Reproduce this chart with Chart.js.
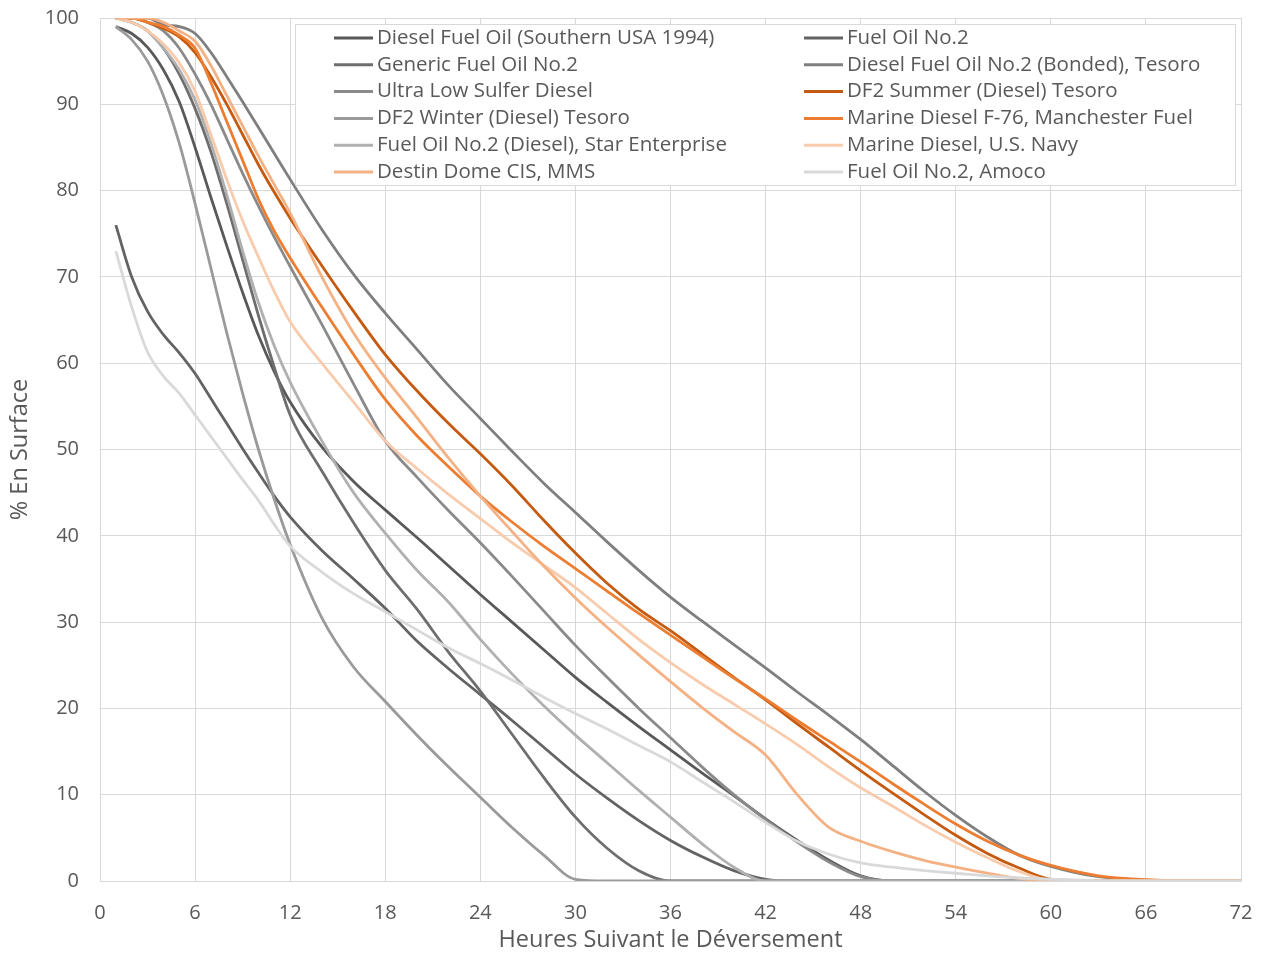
<!DOCTYPE html>
<html>
<head>
<meta charset="utf-8">
<script src="https://cdn.jsdelivr.net/npm/chart.js@4.4.1/dist/chart.umd.min.js"></script>
<style>
  html, body { margin: 0; padding: 0; background: #ffffff; }
  #wrap { width: 1262px; height: 954px; }
</style>
</head>
<body>
<div id="wrap"><canvas id="chart" width="1262" height="954"></canvas></div>
<script>
// Hours after the spill at which each product's surface fraction is listed
const hours = [1,2,3,4,5,6,7,8,9,10,11,12,14,16,18,20,22,24,26,28,30,32,34,36,38,40,42,44,46,48,50,52,54,56,58,60,63,66,69,72];

// % remaining on the surface, one value per entry of `hours`
const dieselSouthernUSA1994 = [99,98.2,96.6,94,90.3,85,79.2,73.6,68.2,63.2,59,55.5,50.3,46.3,43,39.8,36.5,33.2,30,26.8,23.6,20.7,17.9,15.2,12.5,9.9,7.2,4.7,2.4,0.6,0,0,0,0,0,0,0,0,0,0];
const fuelOilNo2 = [76,70,66,63.3,61.2,58.8,55.9,53,50.1,47.3,44.6,42.2,38.3,35,31.6,27.8,24.6,21.6,18.6,15.5,12.4,9.6,7,4.7,2.8,1.2,0.2,0,0,0,0,0,0,0,0,0,0,0,0,0];
const genericFuelOilNo2 = [100,99.5,98.5,96.5,93.5,89.5,84.5,78.5,72,65.5,59.5,54,47.5,41.5,36,31.5,26.5,22,17,12,7.4,3.8,1.2,0,0,0,0,0,0,0,0,0,0,0,0,0,0,0,0,0];
const bondedTesoro = [100,100,100,99.2,99,98.2,96,93.2,90.3,87.3,84.3,81.3,75.5,70.3,65.8,61.6,57.4,53.6,49.8,46.1,42.7,39.3,36,32.9,30.1,27.4,24.7,21.9,19.2,16.4,13.4,10.4,7.6,5.1,3,1.7,0.5,0.1,0,0];
const ultraLowSulfurDiesel = [100,100,99.5,98.5,96.5,93.5,90,86,82,78.2,74.6,71.2,64.5,57.6,51,46.8,42.9,39.2,35.3,31.3,27.3,23.6,20,16.6,13.2,10,7.1,4.5,2.2,0.5,0,0,0,0,0,0,0,0,0,0];
const df2SummerTesoro = [100,100,99.5,98.8,97.8,96,93.2,90,86.5,83,79.8,76.8,71.3,66,61,56.8,53,49.5,45.8,41.8,38,34.5,31.5,29,26.3,23.6,21,18.2,15.5,12.8,10.2,7.7,5.3,3.2,1.5,0.2,0,0,0,0];
const df2WinterTesoro = [99,97.5,95,91,85.5,78.5,71,63.5,56.5,50,44.2,39,30.5,24.8,20.8,16.9,13.2,9.7,6.2,3,0.2,0,0,0,0,0,0,0,0,0,0,0,0,0,0,0,0,0,0,0];
const marineF76Manchester = [100,100,99.5,99,98,96.5,92.5,88,83.5,79,75.3,72.2,66.5,61,55.8,51.6,48,44.6,41.6,38.8,36.2,33.6,31,28.5,26,23.5,21.1,18.6,16.2,13.8,11.3,8.9,6.6,4.6,3,1.8,0.6,0.15,0,0];
const starEnterprise = [100,99.5,98.5,96.5,94,90.5,85.5,79.5,73,67,62,57.8,51,45,40.3,36,32.3,28,24,20.3,16.9,13.7,10.5,7.4,4.3,1.6,0,0,0,0,0,0,0,0,0,0,0,0,0,0];
const marineUSNavy = [100,99.5,98.5,97,94.8,91.5,86.5,81.3,76.5,72.3,68.3,64.8,60,55.5,51,47.8,44.8,42,39.2,36.6,34,31,28,25.3,22.8,20.5,18.2,15.8,13.2,10.8,8.7,6.5,4.5,2.7,1.1,0.1,0,0,0,0];
const destinDomeMMS = [100,100,100,99.5,98.5,97.3,94.5,91,87.5,84,80.7,77.4,70,63.5,58.3,53.7,49,44.6,40.5,36.5,32.8,29.4,26.2,23.1,20.1,17.3,14.6,10,6.2,4.6,3.4,2.4,1.6,0.9,0.3,0,0,0,0,0];
const fuelOilNo2Amoco = [73,66.5,61.3,58.5,56.5,54,51.5,49,46.5,44.1,41.3,38.8,35.8,33.3,31.2,29.1,27,25.2,23.3,21.3,19.4,17.6,15.7,13.8,11.5,9.2,6.8,4.6,3.1,2.1,1.6,1.2,0.9,0.6,0.35,0.2,0.05,0,0,0];

const seriesNames = [
  'Diesel Fuel Oil (Southern USA 1994)',
  'Fuel Oil No.2',
  'Generic Fuel Oil No.2',
  'Diesel Fuel Oil No.2 (Bonded), Tesoro',
  'Ultra Low Sulfer Diesel',
  'DF2 Summer (Diesel) Tesoro',
  'DF2 Winter (Diesel) Tesoro',
  'Marine Diesel F-76, Manchester Fuel',
  'Fuel Oil No.2 (Diesel), Star Enterprise',
  'Marine Diesel, U.S. Navy',
  'Destin Dome CIS, MMS',
  'Fuel Oil No.2, Amoco'
];
const seriesValues = [
  dieselSouthernUSA1994, fuelOilNo2, genericFuelOilNo2, bondedTesoro,
  ultraLowSulfurDiesel, df2SummerTesoro, df2WinterTesoro, marineF76Manchester,
  starEnterprise, marineUSNavy, destinDomeMMS, fuelOilNo2Amoco
];
const seriesColors = [
  '#595959', '#636363', '#6e6e6e', '#7f7f7f',
  '#8a8a8a', '#c55a11', '#9a9a9a', '#ed7d31',
  '#b0b0b0', '#f8cbad', '#f4b183', '#d9d9d9'
];

const xTicks = [0,6,12,18,24,30,36,42,48,54,60,66,72];
const yTicks = [0,10,20,30,40,50,60,70,80,90,100];

const FONT = "'Open Sans', 'DejaVu Sans', sans-serif";
const TEXT = '#595959';
const GRID = '#d9d9d9';

const datasets = seriesNames.map((name, i) => ({
  label: name,
  data: hours.map((h, k) => ({ x: h, y: seriesValues[i][k] })),
  borderColor: seriesColors[i],
  backgroundColor: seriesColors[i],
  borderWidth: 2.8,
  pointRadius: 0,
  fill: false,
  cubicInterpolationMode: 'monotone',
  order: seriesNames.length - i   // later series are painted on top
}));

// Two-column boxed legend inside the plot area
const boxedLegend = {
  id: 'boxedLegend',
  afterDatasetsDraw(chart) {
    const ctx = chart.ctx;
    const box = { x: 295.5, y: 24.5, w: 940, h: 161 };
    ctx.save();
    ctx.fillStyle = '#ffffff';
    ctx.fillRect(box.x, box.y, box.w, box.h);
    ctx.strokeStyle = GRID;
    ctx.lineWidth = 1;
    ctx.strokeRect(box.x, box.y, box.w, box.h);
    ctx.font = '20.5px ' + FONT;
    ctx.textBaseline = 'middle';
    ctx.textAlign = 'left';
    chart.data.datasets.forEach((ds, i) => {
      const col = i % 2;
      const row = Math.floor(i / 2);
      const x0 = col ? 804 : 334;
      const y = 38 + row * 26.8;
      ctx.strokeStyle = ds.borderColor;
      ctx.lineWidth = 3;
      ctx.beginPath();
      ctx.moveTo(x0, y);
      ctx.lineTo(x0 + 39, y);
      ctx.stroke();
      ctx.fillStyle = TEXT;
      ctx.fillText(ds.label, x0 + 43, y);
    });
    ctx.restore();
  }
};

new Chart(document.getElementById('chart'), {
  type: 'line',
  data: { datasets },
  options: {
    responsive: false,
    animation: false,
    devicePixelRatio: 1,
    layout: { padding: { left: 0, right: 21, top: 18, bottom: 0 } },
    plugins: { legend: { display: false }, tooltip: { enabled: false } },
    scales: {
      x: {
        type: 'linear',
        min: 0, max: 72,
        afterBuildTicks(scale) { scale.ticks = xTicks.map(v => ({ value: v })); },
        afterFit(scale) {
          scale.height = 73;
          scale.paddingLeft = 0; scale.paddingRight = 0;
        },
        grid: { color: GRID, lineWidth: 1, drawTicks: false },
        border: { color: GRID },
        ticks: { color: TEXT, font: { family: FONT, size: 20 }, padding: 20, maxRotation: 0 },
        title: { display: true, text: 'Heures Suivant le Déversement', color: TEXT,
                 font: { family: FONT, size: 23.5 }, padding: { top: 0, bottom: 0 } }
      },
      y: {
        min: 0, max: 100,
        afterBuildTicks(scale) { scale.ticks = yTicks.map(v => ({ value: v })); },
        afterFit(scale) {
          scale.width = 100;
          scale.paddingTop = 0; scale.paddingBottom = 0;
        },
        grid: { color: GRID, lineWidth: 1, drawTicks: false },
        border: { color: GRID },
        ticks: { color: TEXT, font: { family: FONT, size: 20 }, padding: 21 },
        title: { display: true, text: '% En Surface', color: TEXT,
                 font: { family: FONT, size: 23.5 }, padding: { top: 6, bottom: 0 } }
      }
    }
  },
  plugins: [boxedLegend]
});
</script>
</body>
</html>
